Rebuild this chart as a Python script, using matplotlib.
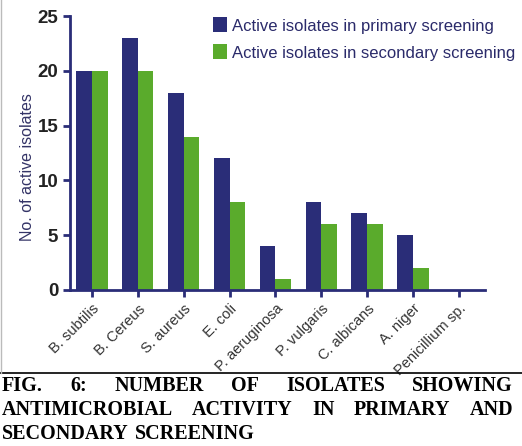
import numpy as np
import matplotlib.pyplot as plt
from matplotlib.lines import Line2D

organisms = ["B. subtilis", "B. Cereus", "S. aureus", "E. coli", "P. aeruginosa",
             "P. vulgaris", "C. albicans", "A. niger", "Penicillium sp."]
primary = [20, 23, 18, 12, 4, 8, 7, 5, 0]
secondary = [20, 20, 14, 8, 1, 6, 6, 2, 0]

navy = "#2a2d78"
green = "#5aab2c"

fig = plt.figure(figsize=(5.22, 4.46), dpi=100)
ax = fig.add_axes([0.134, 0.350, 0.795, 0.614])

x = np.arange(len(organisms))
w = 0.34
ax.bar(x - w / 2, primary, w, color=navy, label="Active isolates in primary screening")
ax.bar(x + w / 2, secondary, w, color=green, label="Active isolates in secondary screening")

ax.set_xlim(-0.48, 8.57)
ax.set_ylim(0, 25)
ax.set_yticks([0, 5, 10, 15, 20, 25])
for s in ["top", "right"]:
    ax.spines[s].set_visible(False)
for s in ["left", "bottom"]:
    ax.spines[s].set_color(navy)
    ax.spines[s].set_linewidth(2)
ax.tick_params(colors=navy, width=2, length=5)
ax.set_yticklabels([0, 5, 10, 15, 20, 25], fontsize=13.5, fontweight="bold",
                   color="#222222", family="Liberation Sans")
ax.set_xticks(x)
ax.set_xticklabels(organisms, rotation=45, ha="right", rotation_mode="anchor",
                   fontsize=10.5, color="#333333", family="Liberation Sans")
ax.set_ylabel("No. of active isolates", fontsize=11.5, color="#333366", family="Liberation Sans")
ax.yaxis.set_label_coords(-0.085, 0.45)

leg = ax.legend(loc="upper left", bbox_to_anchor=(0.345, 0.995), frameon=False,
                borderaxespad=0, borderpad=0,
                handlelength=0.85, handleheight=1.0, handletextpad=0.3,
                labelspacing=0.65, prop={"family": "Liberation Sans", "size": 12})
for t in leg.get_texts():
    t.set_color("#2a2a6a")

# frame lines
fig.add_artist(Line2D([0, 1], [1 - 373 / 446] * 2, color="black", lw=1.2, transform=fig.transFigure))
fig.add_artist(Line2D([0.002, 0.002], [1 - 373 / 446, 1], color="#bbbbbb", lw=1, transform=fig.transFigure))

# justified caption
lines = [["FIG.", "6:", "NUMBER", "OF", "ISOLATES", "SHOWING"],
         ["ANTIMICROBIAL", "ACTIVITY", "IN", "PRIMARY", "AND"],
         ["SECONDARY", "SCREENING"]]
ys = [386, 410, 434]
left, right = 2 / 522, 513 / 522
fig.canvas.draw()
r = fig.canvas.get_renderer()
for li, (words, yp) in enumerate(zip(lines, ys)):
    yy = 1 - yp / 446
    texts = [fig.text(0, yy, wd, fontsize=14.5, fontweight="bold", family="Liberation Serif",
                      va="center", ha="left") for wd in words]
    widths = [t.get_window_extent(r).width / 522 for t in texts]
    if li < 2:
        gap = (right - left - sum(widths)) / (len(words) - 1)
    else:
        gap = texts[0].get_window_extent(r).height / 522 * 0.3
    xp = left
    for t, wdt in zip(texts, widths):
        t.set_x(xp)
        xp += wdt + gap

fig.savefig("out.png", dpi=100)
